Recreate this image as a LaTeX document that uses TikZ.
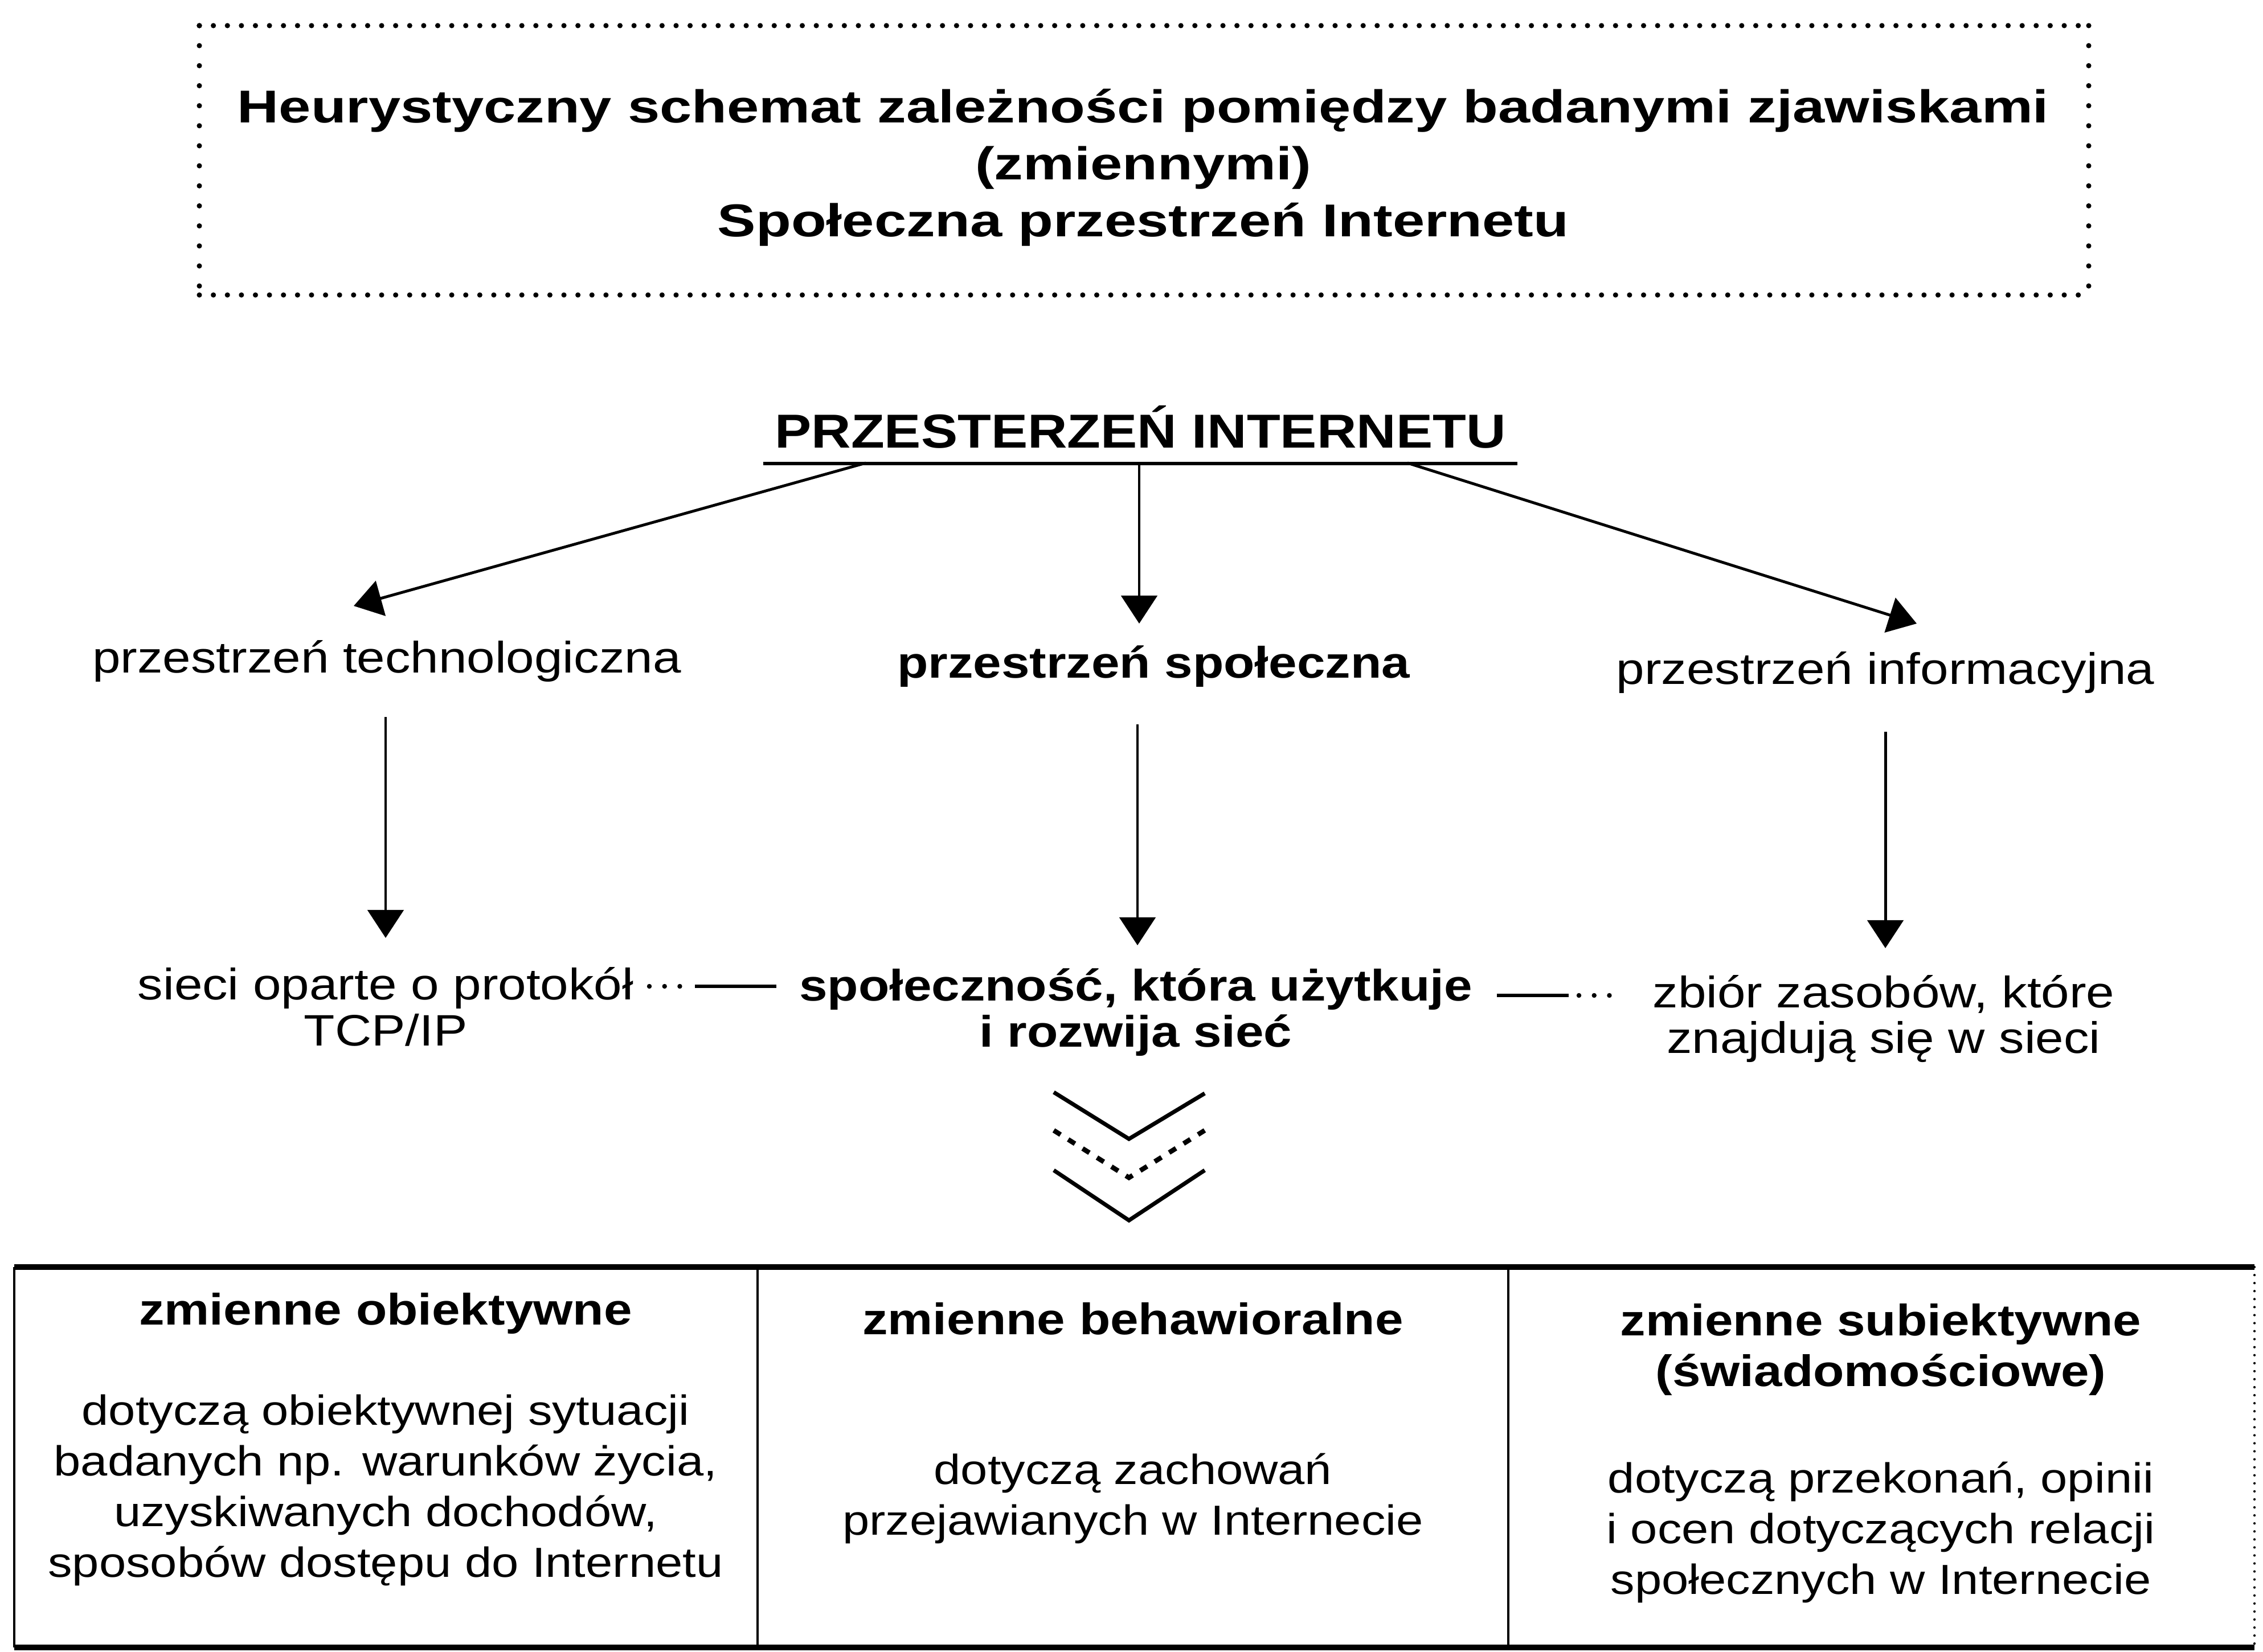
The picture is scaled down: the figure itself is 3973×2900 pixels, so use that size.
\documentclass[tikz,border=0pt]{standalone}
\usepackage{fontspec}
\setmainfont{Liberation Sans}[FakeStretch=1.15]
\newfontfamily\titlefont{Liberation Sans}[FakeStretch=1.25]
\usetikzlibrary{arrows.meta}
\begin{document}
\begin{tikzpicture}[x=0.01cm,y=-0.01cm,
  arr/.style={line width=1.4pt,-{Triangle[width=18pt,length=14pt]}},
  ttl/.style={font=\titlefont\fontsize{23}{28.45}\selectfont\bfseries, align=center, inner sep=0pt},
  lvlreg/.style={font=\fontsize{22}{23}\selectfont, align=center, inner sep=0pt},
  lvlbold/.style={font=\fontsize{22}{23}\selectfont\bfseries, align=center, inner sep=0pt},
  cellhead/.style={font=\fontsize{22}{25.3}\selectfont\bfseries, align=center, inner sep=0pt},
  cellbody/.style={font=\fontsize{21}{25.3}\selectfont, align=center, inner sep=0pt},
  dotline/.style={line width=2.6pt, line cap=round, dash pattern=on 0pt off 7pt},
  dotlinev/.style={line width=2.6pt, line cap=round, dash pattern=on 0pt off 10pt},
  smalldots/.style={line width=2.4pt, line cap=round, dash pattern=on 0pt off 7.6pt},
  chev/.style={line width=2pt, line join=miter},
  chevdash/.style={line width=2.4pt, dash pattern=on 4pt off 4.5pt}
]
\fill[white] (0,0) rectangle (3973,2900);
\useasboundingbox (0,0) rectangle (3973,2900);

% title box
\node[ttl] (title) at (2007,294) {Heurystyczny schemat zależności pomiędzy badanymi zjawiskami\\(zmiennymi)\\Społeczna przestrzeń Internetu};
\coordinate (b1) at (350,45);
\coordinate (b2) at (3667,45);
\coordinate (b3) at (3667,518);
\coordinate (b4) at (350,518);
\draw[dotline] (b1) -- (b2);
\draw[dotline] (b4) -- (b3);
\draw[dotlinev] (b1) -- (b4);
\draw[dotlinev] (b2) -- (b3);

% root
\node[font=\fontsize{23.8}{26}\selectfont\bfseries, inner xsep=0.2cm, inner ysep=0.27cm, text depth=0pt, anchor=base] (root) at (2002,786) {PRZESTERZEŃ INTERNETU};
\draw[line width=1.6pt] (root.south west) -- (root.south east);

% level 2
\node[lvlreg] (tech) at (679,1161) {przestrzeń technologiczna};
\node[lvlbold] (spol) at (2025,1170) {przestrzeń społeczna};
\node[lvlreg] (info) at (3310,1181) {przestrzeń informacyjna};

\coordinate (r1) at (1520,813);
\coordinate (r2) at (2000,813);
\coordinate (r3) at (2471,813);
\coordinate (t1) at (621,1064);
\coordinate (t2) at (2000,1095);
\coordinate (t3) at (3365,1095);
\draw[arr] (r1) -- (t1);
\draw[arr] (r2) -- (t2);
\draw[arr] (r3) -- (t3);

% level 3
\node[lvlreg] (net) at (677,1768) {sieci oparte o protokół\\TCP/IP};
\node[lvlbold] (soc) at (1994,1778) {społeczność, która użytkuje\\i rozwija sieć};
\node[lvlreg] (res) at (3307,1789) {zbiór zasobów, które\\znajdują się w sieci};

\coordinate (v1a) at (677,1259);
\coordinate (v1b) at (677,1647);
\coordinate (v2a) at (1997,1272);
\coordinate (v2b) at (1997,1660);
\coordinate (v3a) at (3310,1285);
\coordinate (v3b) at (3310,1665);
\draw[arr] (v1a) -- (v1b);
\draw[arr] (v2a) -- (v2b);
\draw[arr] (v3a) -- (v3b);

% horizontal connectors
\coordinate (h1a) at (1140,1732);
\coordinate (h1b) at (1203,1732);
\coordinate (h1c) at (1220,1732);
\coordinate (h1d) at (1363,1732);
\draw[smalldots] (h1a) -- (h1b);
\draw[line width=1.8pt] (h1c) -- (h1d);
\coordinate (h2a) at (2628,1748);
\coordinate (h2b) at (2754,1748);
\coordinate (h2c) at (2772,1748);
\coordinate (h2d) at (2834,1748);
\draw[line width=1.8pt] (h2a) -- (h2b);
\draw[smalldots] (h2c) -- (h2d);

% chevrons
\draw[chev] (1850,1918) -- (1982,2000) -- (2115,1920);
\draw[chevdash] (1850,1985) -- (1982,2068) -- (2115,1985);
\draw[chev] (1850,2055) -- (1982,2143) -- (2115,2055);

% table
\coordinate (tl) at (25,2225);
\coordinate (tr) at (3958,2225);
\coordinate (bl) at (25,2893);
\coordinate (br) at (3958,2893);
\draw[line width=2.8pt] (tl) -- (tr);
\draw[line width=2.8pt] (bl) -- (br);
\draw[line width=1pt] (tl) -- (bl);
\draw[line width=1pt] (1330,2225) -- (1330,2893);
\draw[line width=1pt] (2648,2225) -- (2648,2893);
\draw[line width=1.2pt, line cap=round, dash pattern=on 0pt off 4pt] (tr) -- (br);

\node[cellhead] (h1) at (677,2306) {zmienne obiektywne};
\node[cellbody] (c1) at (677,2617) {dotyczą obiektywnej sytuacji\\badanych np. warunków życia,\\uzyskiwanych dochodów,\\sposobów dostępu do Internetu};
\node[cellhead] (h2) at (1989,2316) {zmienne behawioralne};
\node[cellbody] (c2) at (1989,2631) {dotyczą zachowań\\przejawianych w Internecie};
\node[cellhead] (h3) at (3302,2370) {zmienne subiektywne\\(świadomościowe)};
\node[cellbody] (c3) at (3302,2691) {dotyczą przekonań, opinii\\i ocen dotyczących relacji\\społecznych w Internecie};
\end{tikzpicture}
\end{document}
